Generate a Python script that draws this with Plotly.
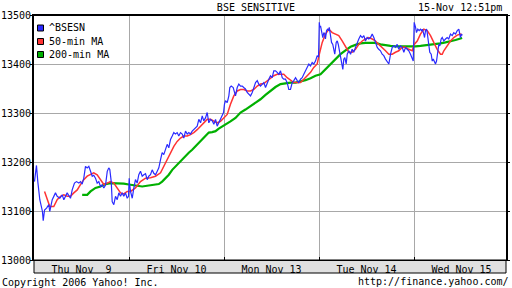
import plotly.graph_objects as go

# x = trading-session position (0 = Thu Nov 9 open, 1 = Fri open, ...)
day_labels = ["Thu Nov\u00a0\u00a09", "Fri Nov 10", "Mon Nov 13", "Tue Nov 14", "Wed Nov 15"]
y_ticks = [13000, 13100, 13200, 13300, 13400, 13500]

bse_t = [0.005, 0.026, 0.040, 0.061, 0.089, 0.097, 0.111, 0.132, 0.156, 0.166, 0.192, 0.226, 0.244, 0.272,
         0.297, 0.314, 0.349, 0.384, 0.402, 0.426, 0.447, 0.472, 0.489, 0.507, 0.524, 0.542, 0.560, 0.577,
         0.595, 0.613, 0.629, 0.647, 0.665, 0.682, 0.700, 0.718, 0.735, 0.753, 0.771, 0.787, 0.798, 0.813,
         0.823, 0.840, 0.858, 0.876, 0.893, 0.911, 0.928, 0.945, 0.963, 0.981, 0.995,
         1.002, 1.005, 1.016, 1.034, 1.051, 1.068, 1.086, 1.103, 1.121, 1.139, 1.156, 1.174, 1.192, 1.208,
         1.226, 1.244, 1.261, 1.279, 1.297, 1.314, 1.332, 1.349, 1.366, 1.384, 1.402, 1.419, 1.437, 1.455,
         1.472, 1.489, 1.507, 1.524, 1.542, 1.560, 1.577, 1.595, 1.613, 1.629, 1.647, 1.665, 1.682, 1.700,
         1.718, 1.735, 1.753, 1.771, 1.787, 1.805, 1.823, 1.840, 1.858, 1.876, 1.893, 1.911, 1.928, 1.945,
         1.963, 1.981, 1.995,
         2.005, 2.016, 2.034, 2.051, 2.061, 2.076, 2.097, 2.111, 2.121, 2.139, 2.156, 2.174, 2.192, 2.208,
         2.226, 2.244, 2.261, 2.279, 2.297, 2.314, 2.332, 2.350, 2.366, 2.384, 2.402, 2.419, 2.437, 2.455,
         2.472, 2.489, 2.507, 2.524, 2.542, 2.560, 2.577, 2.595, 2.613, 2.629, 2.647, 2.665, 2.682, 2.700,
         2.718, 2.735, 2.753, 2.771, 2.787, 2.805, 2.823, 2.840, 2.858, 2.876, 2.893, 2.911, 2.928, 2.945,
         2.963, 2.981, 2.995,
         3.003, 3.008, 3.016, 3.026, 3.040, 3.051, 3.061, 3.068, 3.079, 3.089, 3.103, 3.108, 3.121, 3.132,
         3.145, 3.156, 3.166, 3.181, 3.192, 3.203, 3.216, 3.226, 3.237, 3.251, 3.261, 3.272, 3.286, 3.297,
         3.314, 3.332, 3.349, 3.366, 3.384, 3.402, 3.419, 3.437, 3.455, 3.472, 3.489, 3.507, 3.524, 3.542,
         3.560, 3.577, 3.595, 3.613, 3.629, 3.647, 3.665, 3.682, 3.700, 3.718, 3.735, 3.753, 3.771, 3.787,
         3.805, 3.823, 3.840, 3.858, 3.876, 3.893, 3.911, 3.928, 3.945, 3.963, 3.981, 3.992,
         4.002, 4.007, 4.016, 4.026, 4.040, 4.054, 4.068, 4.079, 4.089, 4.103, 4.111, 4.121, 4.132, 4.139,
         4.150, 4.161, 4.166, 4.181, 4.192, 4.203, 4.216, 4.226, 4.237, 4.251, 4.261, 4.272, 4.286, 4.297,
         4.314, 4.332, 4.349, 4.366, 4.384, 4.402, 4.419, 4.437, 4.455, 4.472, 4.482, 4.489, 4.500, 4.507]
bse_val = [13160, 13193, 13160, 13123, 13099, 13080, 13102, 13106, 13113, 13099, 13123, 13137, 13130, 13126,
           13133, 13123, 13137, 13126, 13143, 13157, 13160, 13157, 13160, 13155, 13167, 13191, 13188, 13191,
           13181, 13171, 13173, 13167, 13157, 13160, 13150, 13153, 13147, 13153, 13181, 13188, 13185, 13160,
           13119, 13113, 13130, 13123, 13137, 13130, 13137, 13130, 13137, 13126, 13130,
           13167, 13157, 13140, 13126, 13147, 13164, 13157, 13174, 13181, 13171, 13174, 13176, 13164, 13171,
           13174, 13184, 13177, 13174, 13181, 13188, 13205, 13219, 13215, 13225, 13236, 13229, 13246, 13253,
           13260, 13257, 13260, 13253, 13260, 13257, 13249, 13263, 13257, 13260, 13257, 13263, 13266, 13270,
           13273, 13287, 13280, 13294, 13284, 13290, 13301, 13280, 13287, 13284, 13277, 13287, 13273, 13280,
           13287, 13294, 13301,
           13318, 13325, 13321, 13335, 13352, 13355, 13352, 13342, 13335, 13352, 13359, 13355, 13355, 13352,
           13349, 13342, 13338, 13335, 13342, 13352, 13362, 13366, 13359, 13355, 13359, 13362, 13352, 13359,
           13369, 13376, 13372, 13386, 13386, 13383, 13379, 13386, 13372, 13369, 13369, 13362, 13348, 13348,
           13362, 13366, 13372, 13366, 13362, 13369, 13372, 13379, 13386, 13393, 13400, 13396, 13403, 13400,
           13406, 13417, 13414,
           13485, 13475, 13478, 13464, 13454, 13464, 13461, 13451, 13468, 13471, 13468, 13475, 13461, 13444,
           13440, 13427, 13420, 13444, 13447, 13440, 13427, 13417, 13403, 13389, 13410, 13413, 13400, 13420,
           13427, 13420, 13430, 13424, 13434, 13444, 13451, 13458, 13454, 13458, 13447, 13454, 13451, 13454,
           13461, 13454, 13444, 13434, 13430, 13427, 13420, 13417, 13410, 13406, 13400, 13420, 13434, 13437,
           13434, 13440, 13430, 13437, 13434, 13424, 13434, 13430, 13427, 13420, 13413, 13406,
           13485, 13478, 13475, 13464, 13471, 13468, 13471, 13468, 13471, 13461, 13454, 13468, 13471, 13464,
           13447, 13434, 13424, 13420, 13406, 13410, 13403, 13400, 13406, 13427, 13440, 13437, 13451, 13454,
           13447, 13451, 13454, 13451, 13461, 13458, 13464, 13461, 13468, 13471, 13464, 13454, 13461, 13458]

ma50_t = [0.111, 0.139, 0.166, 0.208, 0.244, 0.279, 0.314, 0.349, 0.384, 0.419, 0.455, 0.489, 0.524, 0.560,
          0.595, 0.629, 0.665, 0.700, 0.735, 0.771, 0.805, 0.840, 0.876, 0.911, 0.945, 0.981,
          1.016, 1.068, 1.121, 1.174, 1.226, 1.279, 1.332, 1.366, 1.402, 1.437, 1.472, 1.507, 1.542, 1.577,
          1.613, 1.647, 1.682, 1.718, 1.753, 1.787, 1.823, 1.858, 1.893, 1.928, 1.963, 1.998,
          2.034, 2.068, 2.103, 2.139, 2.174, 2.208, 2.244, 2.279, 2.314, 2.350, 2.384, 2.419, 2.455, 2.489,
          2.524, 2.560, 2.595, 2.629, 2.665, 2.700, 2.735, 2.771, 2.805, 2.840, 2.876, 2.911, 2.945, 2.981,
          3.003, 3.034, 3.068, 3.103, 3.139, 3.174, 3.208, 3.244, 3.279, 3.314, 3.349, 3.384, 3.419, 3.455,
          3.489, 3.524, 3.560, 3.595, 3.629, 3.665, 3.700, 3.735, 3.771, 3.805, 3.840, 3.876, 3.911, 3.945,
          3.981,
          4.002, 4.034, 4.068, 4.103, 4.139, 4.174, 4.208, 4.244, 4.279, 4.297, 4.314, 4.349, 4.384, 4.419,
          4.455, 4.489, 4.507]
ma50_val = [13140, 13123, 13109, 13109, 13123, 13130, 13133, 13130, 13130, 13137, 13143, 13154, 13164, 13171,
            13174, 13178, 13174, 13164, 13154, 13157, 13160, 13157, 13147, 13137, 13135, 13140,
            13140, 13147, 13160, 13167, 13168, 13171, 13178, 13191, 13205, 13219, 13232, 13242, 13249, 13253,
            13253, 13256, 13260, 13266, 13273, 13280, 13287, 13287, 13283, 13280, 13283, 13290,
            13297, 13318, 13335, 13345, 13348, 13348, 13345, 13345, 13348, 13355, 13359, 13360, 13366, 13372,
            13376, 13379, 13379, 13379, 13372, 13366, 13362, 13362, 13362, 13369, 13376, 13383, 13393, 13400,
            13420, 13444, 13461, 13471, 13464, 13461, 13458, 13447, 13434, 13424, 13424, 13430, 13440, 13447,
            13451, 13454, 13451, 13447, 13440, 13434, 13427, 13420, 13420, 13424, 13427, 13434, 13434, 13430,
            13427,
            13440, 13447, 13461, 13471, 13468, 13458, 13444, 13430, 13420, 13420, 13427, 13437, 13447, 13454,
            13459, 13461, 13460]

ma200_t = [0.507, 0.560, 0.595, 0.647, 0.700, 0.753, 0.805, 0.876, 0.945, 0.998, 1.068, 1.139, 1.208, 1.279,
           1.314, 1.349, 1.384, 1.419, 1.455, 1.489, 1.524, 1.560, 1.595, 1.629, 1.665, 1.700, 1.735, 1.771,
           1.805, 1.840, 1.876, 1.911, 1.945, 1.981, 2.016, 2.068, 2.121, 2.174, 2.226, 2.279, 2.332, 2.384,
           2.437, 2.489, 2.542, 2.595, 2.647, 2.700, 2.753, 2.805, 2.858, 2.911, 2.963, 3.016, 3.068, 3.121,
           3.174, 3.226, 3.279, 3.332, 3.384, 3.437, 3.489, 3.542, 3.595, 3.647, 3.700, 3.753, 3.805, 3.858,
           3.911, 3.963, 4.016, 4.068, 4.121, 4.174, 4.226, 4.279, 4.332, 4.384, 4.437, 4.472, 4.507]
ma200_val = [13133, 13133, 13140, 13147, 13150, 13155, 13157, 13157, 13156, 13154, 13152, 13150, 13152, 13154,
             13155, 13160, 13167, 13174, 13184, 13191, 13198, 13205, 13212, 13219, 13225, 13232, 13240, 13247,
             13253, 13260, 13261, 13263, 13268, 13272, 13277, 13283, 13290, 13301, 13307, 13314, 13321, 13328,
             13337, 13345, 13353, 13359, 13361, 13362, 13362, 13364, 13367, 13371, 13376, 13379, 13389, 13400,
             13410, 13420, 13428, 13435, 13439, 13442, 13443, 13443, 13443, 13440, 13438, 13437, 13436, 13436,
             13435, 13435, 13436, 13437, 13438, 13439, 13440, 13442, 13444, 13446, 13449, 13451, 13453]

series_names = ["^BSESN", "50-min MA", "200-min MA"]
series_colors = ["#2a2aff", "#ff3333", "#00b000"]

FONT = "DejaVu Sans Mono"

fig = go.Figure()
fig.add_trace(go.Scatter(x=ma200_t, y=ma200_val, mode="lines",
                         line=dict(color=series_colors[2], width=2.2), showlegend=False))
fig.add_trace(go.Scatter(x=ma50_t, y=ma50_val, mode="lines",
                         line=dict(color=series_colors[1], width=1.5), showlegend=False))
fig.add_trace(go.Scatter(x=bse_t, y=bse_val, mode="lines",
                         line=dict(color=series_colors[0], width=1.2), showlegend=False))

PW, PH = 472, 245  # plot size in px

shapes = [
    # x-axis label band
    dict(type="rect", xref="paper", yref="paper", x0=0, x1=1, y0=-13 / PH, y1=0,
         fillcolor="#e0e0e0", line=dict(color="black", width=1), layer="below"),
    # thick top border
    dict(type="line", xref="paper", yref="paper", x0=0, x1=1, y0=1, y1=1,
         line=dict(color="black", width=2)),
]
annotations = [
    dict(text="15-Nov 12:51pm", xref="paper", yref="paper", x=1, y=1 + 8 / PH,
         xanchor="right", yanchor="middle", xshift=-2, showarrow=False,
         font=dict(family=FONT, size=10, color="black")),
    dict(text="Copyright 2006 Yahoo! Inc.", xref="paper", yref="paper", x=-34 / PW, y=-22 / PH,
         xanchor="left", yanchor="middle", showarrow=False,
         font=dict(family=FONT, size=10, color="black")),
    dict(text="http://finance.yahoo.com/", xref="paper", yref="paper", x=1 + 5 / PW, y=-21 / PH,
         xanchor="right", yanchor="middle", showarrow=False,
         font=dict(family=FONT, size=10, color="black")),
]
# legend keys
row_y = [28, 41.5, 54.5]
for name, col, ry in zip(series_names, series_colors, row_y):
    yc = (260 - ry) / PH
    shapes.append(dict(type="rect", xref="paper", yref="paper", x0=3.5 / PW, x1=9.5 / PW,
                       y0=yc - 3 / PH, y1=yc + 3 / PH, fillcolor=col,
                       line=dict(color="black", width=1)))
    annotations.append(dict(text=name, xref="paper", yref="paper", x=12.5 / PW, y=yc,
                            xanchor="left", yanchor="middle", showarrow=False,
                            font=dict(family=FONT, size=10, color="black")))

fig.update_layout(
    width=512, height=288,
    margin=dict(l=34, r=6, t=15, b=28, pad=0, autoexpand=False),
    paper_bgcolor="white", plot_bgcolor="white",
    title=dict(text="BSE SENSITIVE", x=0.5, xref="container", xanchor="center",
               y=1 - 7.5 / 288, yref="container", yanchor="middle",
               font=dict(family=FONT, size=10, color="black")),
    font=dict(family=FONT, size=10, color="black"),
    shapes=shapes, annotations=annotations, showlegend=False,
    xaxis=dict(range=[0, PW / 95], tickmode="array", tickvals=[0.5, 1.5, 2.5, 3.5, 4.5],
               ticktext=day_labels, ticks="", showgrid=False, zeroline=False, automargin=False,
               showline=True, linecolor="black", linewidth=1, mirror=True,
               tickfont=dict(family=FONT, size=10, color="black"),
               minor=dict(tickmode="array", tickvals=[1, 2, 3, 4], showgrid=True,
                          gridcolor="#a8a8a8", gridwidth=1, ticks="inside", ticklen=3,
                          tickcolor="black")),
    yaxis=dict(range=[13000, 13500], tickmode="array", tickvals=y_ticks,
               ticktext=[str(v) for v in y_ticks], showgrid=True, gridcolor="#a8a8a8",
               gridwidth=1, zeroline=False, showline=True, linecolor="black", linewidth=2,
               mirror="ticks", ticks="outside", ticklen=2, tickcolor="black", tickwidth=1,
               ticklabelstandoff=-3, automargin=False,
               tickfont=dict(family=FONT, size=10, color="black")),
)

fig.write_html("out.html")
